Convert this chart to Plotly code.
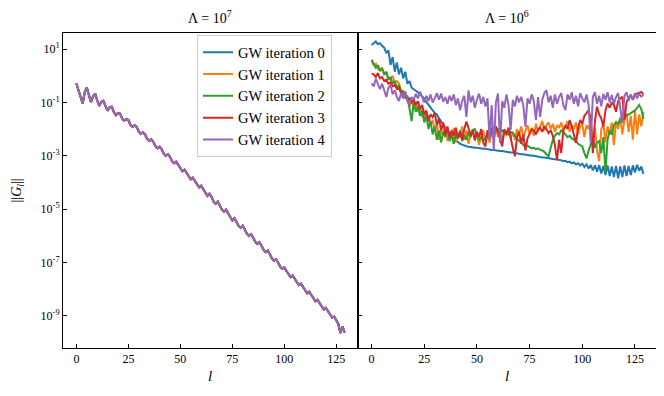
import numpy as np
import plotly.graph_objects as go
from plotly.subplots import make_subplots

l = list(range(130))

# log10 ||G_l||, Lambda = 10^7 (all iterations coincide)
g7_log = [-0.29, -0.55, -0.85, -1.04, -0.62, -0.44, -0.72, -0.98, -0.78, -0.67,
          -0.92, -1.13, -0.98, -0.94, -1.14, -1.31, -1.18, -1.16, -1.36, -1.48,
          -1.40, -1.42, -1.60, -1.68, -1.62, -1.66, -1.84, -1.92, -1.86, -1.92,
          -2.10, -2.18, -2.12, -2.20, -2.36, -2.44, -2.38, -2.48, -2.64, -2.72,
          -2.66, -2.76, -2.92, -3.00, -2.94, -3.04, -3.20, -3.28, -3.22, -3.34,
          -3.50, -3.58, -3.52, -3.64, -3.80, -3.88, -3.82, -3.94, -4.10, -4.18,
          -4.12, -4.24, -4.40, -4.50, -4.42, -4.54, -4.72, -4.80, -4.72, -4.86,
          -5.02, -5.10, -5.02, -5.16, -5.32, -5.42, -5.34, -5.48, -5.62, -5.70,
          -5.62, -5.76, -5.92, -6.00, -5.94, -6.06, -6.22, -6.30, -6.24, -6.36,
          -6.52, -6.61, -6.55, -6.68, -6.84, -6.93, -6.88, -7.00, -7.15, -7.23,
          -7.18, -7.31, -7.45, -7.54, -7.48, -7.61, -7.76, -7.84, -7.79, -7.91,
          -8.06, -8.15, -8.09, -8.22, -8.36, -8.45, -8.40, -8.52, -8.67, -8.76,
          -8.70, -8.83, -8.98, -9.06, -9.02, -9.15, -9.30, -9.64, -9.40, -9.62]

# Lambda = 10^6, one list per GW iteration
it0_log = [1.15, 1.20, 1.28, 1.18, 1.22, 1.12, 1.05, 0.85, 0.95, 0.40,
           0.70, 0.15, 0.50, 0.05, 0.30, -0.10, 0.15, -0.30, -0.20, -0.45,
           -0.50, -0.58, -0.62, -0.70, -0.78, -0.85, -0.98, -1.10, -1.18, -1.30,
           -1.40, -1.45, -1.60, -1.72, -1.82, -1.95, -2.08, -2.15, -2.28, -2.35,
           -2.42, -2.48, -2.55, -2.58, -2.62, -2.64, -2.66, -2.68, -2.69, -2.70,
           -2.70, -2.72, -2.72, -2.74, -2.74, -2.76, -2.76, -2.78, -2.78, -2.80,
           -2.80, -2.82, -2.82, -2.84, -2.85, -2.86, -2.88, -2.88, -2.90, -2.91,
           -2.92, -2.94, -2.94, -2.96, -2.97, -2.98, -3.00, -3.00, -3.02, -3.03,
           -3.04, -3.06, -3.06, -3.08, -3.09, -3.10, -3.12, -3.13, -3.14, -3.16,
           -3.17, -3.20, -3.19, -3.24, -3.22, -3.28, -3.25, -3.32, -3.28, -3.36,
           -3.30, -3.42, -3.32, -3.48, -3.34, -3.55, -3.36, -3.60, -3.35, -3.66,
           -3.38, -3.72, -3.36, -3.76, -3.40, -3.80, -3.38, -3.84, -3.40, -3.80,
           -3.36, -3.76, -3.38, -3.72, -3.36, -3.62, -3.34, -3.56, -3.40, -3.68]

it1_log = [0.55, 0.40, 0.45, 0.25, 0.20, 0.30, 0.05, 0.10, -0.10, -0.15,
           0.00, -0.25, -0.20, -0.30, -0.55, -0.80, -0.60, -0.95, -1.15, -0.90,
           -1.20, -1.00, -1.35, -1.20, -1.55, -1.40, -1.70, -1.50, -1.85, -1.65,
           -2.05, -1.80, -2.40, -2.00, -2.25, -1.90, -2.45, -2.10, -2.35, -1.95,
           -2.50, -2.15, -2.30, -1.90, -2.40, -2.05, -2.55, -2.20, -2.00, -2.45,
           -2.15, -2.60, -2.25, -2.05, -2.40, -2.20, -2.50, -2.10, -2.35, -2.00,
           -2.30, -2.15, -2.45, -2.05, -2.25, -1.95, -2.35, -2.10, -2.40, -2.00,
           -2.20, -1.90, -2.30, -2.05, -1.85, -2.20, -1.95, -2.25, -1.80, -2.10,
           -1.90, -1.70, -2.05, -1.85, -1.75, -2.00, -1.80, -2.10, -1.85, -1.95,
           -1.75, -2.05, -1.90, -1.70, -2.10, -1.85, -2.00, -1.75, -2.20, -1.90,
           -1.80, -2.30, -1.85, -2.00, -1.70, -2.45, -1.95, -2.80, -3.20, -2.00,
           -1.80, -2.50, -1.90, -2.20, -1.75, -2.60, -1.70, -2.00, -1.55, -2.20,
           -1.65, -1.40, -2.10, -1.50, -2.40, -1.30, -2.20, -1.45, -1.90, -1.35]

it2_log = [0.60, 0.45, 0.30, 0.40, 0.20, 0.25, 0.05, 0.15, -0.15, -0.05,
           -0.30, -0.20, -0.45, -0.35, -0.65, -0.55, -0.85, -0.75, -1.20, -1.70,
           -1.00, -1.35, -1.15, -1.50, -1.30, -1.75, -1.45, -2.00, -1.70, -2.20,
           -1.90, -2.40, -2.05, -2.50, -2.10, -2.30, -1.95, -2.45, -2.20, -2.55,
           -2.15, -2.35, -2.05, -2.45, -2.25, -2.40, -2.10, -2.30, -2.05, -2.00,
           -2.25, -2.40, -2.30, -2.45, -2.35, -2.20, -2.30, -2.15, -2.25, -2.05,
           -2.00, -2.10, -2.05, -2.15, -2.10, -2.20, -2.10, -2.15, -2.25, -2.35,
           -2.45, -2.50, -2.60, -2.65, -2.62, -2.68, -2.72, -2.70, -2.75, -2.72,
           -2.78, -2.80, -2.85, -2.95, -3.02, -2.70, -2.40, -2.25, -2.15, -2.20,
           -2.05, -2.10, -2.20, -2.30, -2.25, -2.35, -2.40, -2.45, -2.55, -2.60,
           -2.65, -2.90, -3.10, -2.80, -2.55, -2.35, -2.70, -2.50, -2.45, -2.90,
           -2.30, -3.62, -2.40, -2.05, -2.20, -1.85, -1.75, -1.80, -1.65, -1.70,
           -1.55, -1.50, -1.45, -1.40, -1.35, -1.30, -1.20, -1.10, -1.25, -1.62]

it3_log = [0.08, 0.05, -0.05, 0.10, -0.10, -0.05, -0.20, -0.15, -0.30, -0.25,
           -0.40, -0.35, -0.50, -0.45, -0.65, -0.80, -0.70, -0.95, -0.85, -1.00,
           -0.90, -1.10, -0.95, -1.25, -1.10, -1.45, -1.30, -1.70, -1.45, -1.55,
           -1.40, -1.85, -1.60, -2.05, -1.75, -2.20, -1.90, -2.30, -2.05, -2.25,
           -1.95, -2.35, -2.10, -2.40, -2.00, -1.72, -1.95, -2.25, -2.05, -2.40,
           -2.10, -2.30, -2.00, -2.50, -2.65, -2.05, -2.25, -1.95, -2.15, -1.90,
           -2.10, -2.35, -2.65, -2.00, -2.20, -1.95, -2.40, -2.70, -3.02, -2.30,
           -2.10, -2.55, -2.20, -2.80, -2.35, -2.15, -2.00, -2.05, -2.20, -2.00,
           -1.95, -2.10, -1.90, -2.00, -2.15, -2.05, -2.25, -2.60, -3.15, -2.40,
           -2.90, -2.05, -1.85, -2.00, -1.66, -1.90, -2.20, -2.52, -1.95, -1.66,
           -1.80, -1.50, -1.40, -1.29, -1.60, -2.90, -1.70, -1.16, -1.45, -1.60,
           -1.90, -1.30, -1.04, -1.20, -1.00, -1.10, -1.35, -0.95, -0.85, -0.79,
           -1.66, -1.00, -0.80, -0.75, -0.90, -0.72, -0.67, -0.65, -0.61, -0.70]

it4_log = [-0.28, -0.40, -0.12, -0.35, -0.50, -0.30, -0.55, -0.80, -0.45, -0.35,
           -0.70, -0.55, -0.80, -0.95, -0.65, -0.85, -0.60, -0.95, -1.06, -0.80,
           -0.90, -0.68, -0.85, -0.60, -0.80, -1.00, -0.75, -0.95, -0.70, -1.00,
           -0.85, -0.65, -0.90, -0.67, -0.98, -0.80, -1.05, -0.75, -0.95, -0.70,
           -1.10, -0.85, -1.29, -0.95, -0.75, -1.54, -0.55, -1.00, -0.75, -1.20,
           -0.90, -0.67, -1.05, -0.80, -1.15, -0.85, -2.40, -1.10, -2.77, -1.00,
           -0.67, -2.52, -0.95, -1.20, -0.70, -1.10, -2.03, -0.90, -1.15, -0.75,
           -1.00, -0.79, -1.10, -1.91, -0.85, -1.05, -0.70, -0.95, -1.66, -0.80,
           -1.54, -0.90, -0.65, -0.54, -1.00, -0.75, -1.20, -0.70, -1.05, -0.80,
           -0.65, -1.10, -1.29, -0.70, -0.90, -0.62, -1.05, -0.75, -1.15, -0.65,
           -0.85, -1.00, -0.70, -1.10, -2.52, -0.80, -0.62, -1.05, -0.75, -1.15,
           -0.68, -0.90, -0.62, -1.00, -0.72, -1.05, -0.80, -0.65, -1.20, -1.78,
           -0.75, -0.62, -0.95, -0.70, -0.88, -0.65, -0.85, -0.68, -0.78, -0.72]

names = ["GW iteration 0", "GW iteration 1", "GW iteration 2",
         "GW iteration 3", "GW iteration 4"]
colors = ["#1f77b4", "#ff7f0e", "#2ca02c", "#d62728", "#9467bd"]
right_series = [it0_log, it1_log, it2_log, it3_log, it4_log]

y_tickvals = [1e1, 1e-1, 1e-3, 1e-5, 1e-7, 1e-9]
y_ticktext = ["10<sup>1</sup>", "10<sup>-1</sup>", "10<sup>-3</sup>",
              "10<sup>-5</sup>", "10<sup>-7</sup>", "10<sup>-9</sup>"]
x_ticks = [0, 25, 50, 75, 100, 125]

FONT = "Liberation Serif"

fig = make_subplots(rows=1, cols=2, shared_yaxes=True, horizontal_spacing=0)

for i in range(5):
    fig.add_trace(go.Scatter(x=l, y=np.power(10.0, g7_log), mode="lines",
                             name=names[i], line=dict(color=colors[i], width=2)),
                  row=1, col=1)
for i in range(5):
    fig.add_trace(go.Scatter(x=l, y=np.power(10.0, right_series[i]), mode="lines",
                             showlegend=False, line=dict(color=colors[i], width=2)),
                  row=1, col=2)

axis_common = dict(showline=True, linecolor="black", linewidth=1, mirror=True,
                   ticks="inside", ticklen=4, tickcolor="black", showgrid=False,
                   zeroline=False, automargin=False,
                   tickfont=dict(family=FONT, size=12, color="black"))

fig.update_xaxes(range=[-6.45, 135.45], tickvals=x_ticks, **axis_common)
fig.update_xaxes(domain=[0, 0.4966], row=1, col=1)
fig.update_xaxes(domain=[0.4966, 1], row=1, col=2)
fig.update_yaxes(type="log", range=[-10.2, 1.6], tickvals=y_tickvals,
                 ticktext=y_ticktext, **axis_common)
fig.update_yaxes(showticklabels=False, row=1, col=2)

def label(text, x, y, size, angle=0):
    return dict(text=text, x=x, y=y, xref="paper", yref="paper", xanchor="center",
                yanchor="middle", textangle=angle, showarrow=False,
                font=dict(family=FONT, size=size, color="black"))

annotations = [
    label("Λ = 10<sup>7</sup>", 0.2483, 1.052, 14),
    label("Λ = 10<sup>6</sup>", 0.7483, 1.052, 14),
    label("<i>l</i>", 0.2483, -0.089, 15),
    label("<i>l</i>", 0.7483, -0.089, 15),
    label("||<i>G<sub>l</sub></i>||", -0.0758, 0.5, 14, angle=-90),
]

# the page body keeps an 8px margin, so the figure is shrunk to fit the window
fig.update_layout(
    width=656, height=388,
    margin=dict(l=55, r=7, t=25, b=48),
    plot_bgcolor="white", paper_bgcolor="white",
    font=dict(family=FONT, size=13, color="black"),
    annotations=annotations,
    legend=dict(x=0.2256, y=0.993, xanchor="left", yanchor="top",
                bgcolor="rgba(255,255,255,0.8)", bordercolor="#cccccc", borderwidth=1,
                font=dict(family=FONT, size=14.5, color="black")),
)

fig.write_html("out.html")
